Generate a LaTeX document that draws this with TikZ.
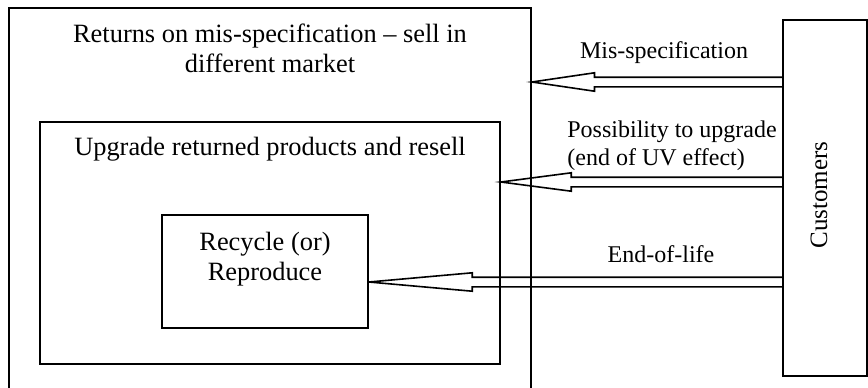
\documentclass[tikz,border=0pt]{standalone}
\usepackage{fontspec}
\setmainfont{Liberation Serif}
\usetikzlibrary{positioning, calc}

\begin{document}
\begin{tikzpicture}[
    x=0.5pt, y=-0.5pt,
    font=\fontsize{12}{14}\selectfont,
    box/.style={rectangle, draw, line width=0.9pt, inner sep=0pt},
    txt/.style={inner sep=0pt, align=center},
    big/.style={font=\fontsize{13.2}{15}\selectfont},
    hollow/.style={line width=0.8pt, to path={
        let \p1=(\tikztostart), \p2=(\tikztotarget),
            \p3=($(\tikztotarget)!0.25!(\tikztostart)$) in
        (\x1,\y1+2.4pt) -- (\x3,\y1+2.4pt) -- (\x3,\y1+4.6pt) -- (\x2,\y2)
        -- (\x3,\y1-4.6pt) -- (\x3,\y1-2.4pt) -- (\x1,\y1-2.4pt)}},
]
\useasboundingbox (0,0) rectangle (868,387);
\clip (0,0) rectangle (868,387);

% boxes
\node[box, minimum width=261pt, minimum height=196pt] (outer) at (270,204) {};
\node[box, minimum width=230pt, minimum height=121pt] (inner) at (270,243) {};
\node[box, minimum width=103pt, minimum height=56.5pt] (recycle) at (265,271.5) {};
\node[box, minimum width=42pt, minimum height=178pt] (cust) at (825,198) {};

% texts (base = last line)
\node[txt, big, anchor=base] (outerlbl) at (270,72) {Returns on mis-specification -- sell in\\different market};
\node[txt, big, anchor=base] (innerlbl) at (270,155) {Upgrade returned products and resell};
\node[txt, big, anchor=base] (recyclelbl) at (265,280) {Recycle (or)\\Reproduce};
\node[txt, rotate=90, font=\fontsize{12.5}{14}\selectfont] (custlbl) at (819,195) {Customers};

% returns
\coordinate (c1) at (cust.west |- 0,82);
\coordinate (c2) at (cust.west |- 0,182);
\coordinate (c3) at (cust.west |- 0,282);
\draw[hollow] (c1) to (outer.east |- c1);
\draw[hollow] (c2) to (inner.east |- c2);
\draw[hollow] (c3) to (recycle.east |- c3);

\node[txt, anchor=base] (mislbl) at (664,58) {Mis-specification};
\node[txt, anchor=base west, align=left] (upglbl) at (567,165) {Possibility to upgrade\\(end of UV effect)};
\node[txt, anchor=base] (eollbl) at (661,262) {End-of-life};

\end{tikzpicture}
\end{document}
